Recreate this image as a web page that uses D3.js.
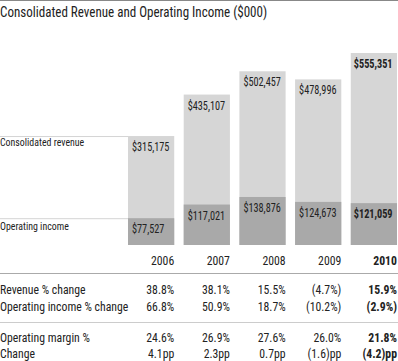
<!DOCTYPE html>
<html>
<head>
<meta charset="utf-8">
<script src="https://cdn.jsdelivr.net/npm/d3@7"></script>
<style>
  body { margin: 0; background: #fff; }
  svg text { font-family: "Roboto", sans-serif; font-stretch: condensed; fill: #222; }
</style>
</head>
<body>
<svg width="398" height="361"></svg>
<script>
const years = ["2006", "2007", "2008", "2009", "2010"];
const revenue = [315175, 435107, 502457, 478996, 555351];
const opIncome = [77527, 117021, 138876, 124673, 121059];
const revChange = ["38.8%", "38.1%", "15.5%", "(4.7%)", "15.9%"];
const opChange = ["66.8%", "50.9%", "18.7%", "(10.2%)", "(2.9%)"];
const opMargin = ["24.6%", "26.9%", "27.6%", "26.0%", "21.8%"];
const marginChange = ["4.1pp", "2.3pp", "0.7pp", "(1.6)pp", "(4.2)pp"];

const svg = d3.select("svg");
const W = 398;

let x = d3.scaleBand().domain(years).range([128, 397]).paddingInner(0.17).paddingOuter(0);
let y = d3.scaleLinear().domain([0, 555351]).range([245, 53]);

const bold = (d) => d === "2010";
// squeeze glyphs sideways, the original face is narrower than Roboto condensed
const place = (px, py, sx) => "translate(" + px + "," + py + ") scale(" + sx + ",1)";

// top rule + title
svg.append("line").attr("x1", 0).attr("x2", W).attr("y1", 0.5).attr("y2", 0.5)
  .attr("stroke", "#888").attr("stroke-width", 1);
svg.append("text").attr("transform", place(0, 17, 0.9)).attr("font-size", 14.5)
  .text("Consolidated Revenue and Operating Income ($000)");

// guide lines to first bar
svg.append("line").attr("x1", 0).attr("x2", x(years[0]))
  .attr("y1", y(revenue[0]) + 0.5).attr("y2", y(revenue[0]) + 0.5)
  .attr("stroke", "#d4d4d4");
svg.append("line").attr("x1", 0).attr("x2", x(years[0]))
  .attr("y1", y(opIncome[0]) + 0.5).attr("y2", y(opIncome[0]) + 0.5)
  .attr("stroke", "#d4d4d4");
svg.append("text").attr("transform", place(0, y(revenue[0]) + 10, 0.86)).attr("font-size", 11.5)
  .text("Consolidated revenue");
svg.append("text").attr("transform", place(0, y(opIncome[0]) + 12, 0.86)).attr("font-size", 11.5)
  .text("Operating income");

let g = svg.append("g");

g.selectAll("rect.rev")
  .data(years)
  .enter()
  .append("rect")
  .attr("class", "rev")
  .attr("x", (d) => x(d))
  .attr("width", x.bandwidth())
  .attr("y", (d, i) => y(revenue[i]))
  .attr("height", (d, i) => y(0) - y(revenue[i]))
  .attr("fill", "#d6d6d6");

g.selectAll("rect.op")
  .data(years)
  .enter()
  .append("rect")
  .attr("class", "op")
  .attr("x", (d) => x(d))
  .attr("width", x.bandwidth())
  .attr("y", (d, i) => y(opIncome[i]))
  .attr("height", (d, i) => y(0) - y(opIncome[i]))
  .attr("fill", "#a9a9a9");

const fmt = (v) => "$" + d3.format(",")(v);

g.selectAll("text.revlab")
  .data(years)
  .enter()
  .append("text")
  .attr("transform", (d, i) => place(x(d) + (bold(d) ? 3 : 4), y(revenue[i]) + 15, 0.82))
  .attr("font-size", 12.5)
  .attr("font-weight", (d) => (bold(d) ? "bold" : null))
  .text((d, i) => fmt(revenue[i]));

g.selectAll("text.oplab")
  .data(years)
  .enter()
  .append("text")
  .attr("transform", (d, i) => place(x(d) + (bold(d) ? 3 : 4), y(opIncome[i]) + 15, 0.82))
  .attr("font-size", 12.5)
  .attr("font-weight", (d) => (bold(d) ? "bold" : null))
  .text((d, i) => fmt(opIncome[i]));

// table
const right = (d) => x(d) + x.bandwidth();

function row(values, yy, label) {
  if (label) {
    svg.append("text").attr("transform", place(0, yy, 0.94)).attr("font-size", 12.5).text(label);
  }
  svg.append("g").selectAll("text")
    .data(years)
    .enter()
    .append("text")
    .attr("transform", (d) => place(right(d), yy, 0.94))
    .attr("text-anchor", "end")
    .attr("font-size", 12.5)
    .attr("font-weight", (d) => (bold(d) ? "bold" : null))
    .text((d, i) => values[i]);
}

row(years, 265, null);
svg.append("line").attr("x1", 0).attr("x2", W).attr("y1", 273.5).attr("y2", 273.5).attr("stroke", "#aaa");
row(revChange, 294, "Revenue % change");
row(opChange, 311, "Operating income % change");
svg.append("line").attr("x1", 0).attr("x2", W).attr("y1", 322.5).attr("y2", 322.5).attr("stroke", "#ccc");
row(opMargin, 342, "Operating margin %");
row(marginChange, 358, "Change");
</script>
</body>
</html>
